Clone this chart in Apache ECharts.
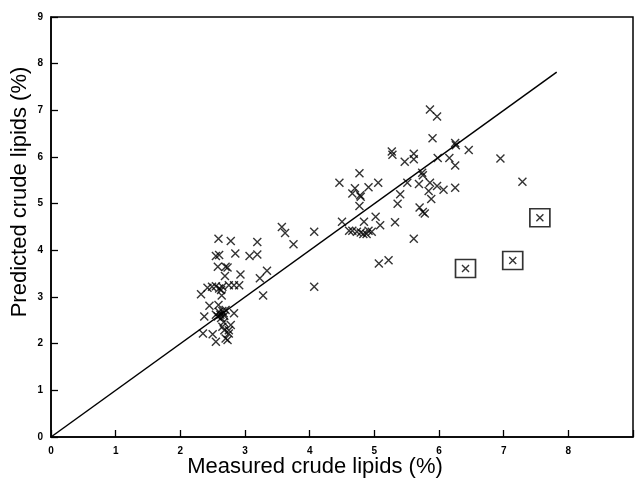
<!DOCTYPE html>
<html><head><meta charset="utf-8">
<script src="https://cdn.jsdelivr.net/npm/echarts@6/dist/echarts.min.js"></script>
<style>html,body{margin:0;padding:0;background:#fff}#c{width:636px;height:479px}</style>
</head><body><div id="c"></div>
<script>
const xTicks = [0,1,2,3,4,5,6,7,8];
const yTicks = [0,1,2,3,4,5,6,7,8,9];
const samples = [
[2.59,4.25],[2.78,4.20],[3.19,4.18],[3.57,4.50],[3.62,4.37],[2.55,3.88],[2.60,3.90],[2.85,3.93],[3.07,3.88],[3.19,3.91],
[2.58,3.65],[2.70,3.65],[2.73,3.63],[2.69,3.45],[2.93,3.48],[3.23,3.40],[3.34,3.56],[2.32,3.06],[2.42,3.20],[2.49,3.22],
[2.55,3.23],[2.60,3.18],[2.63,3.15],[2.65,3.22],[2.64,3.03],[2.75,3.25],[2.83,3.25],[2.91,3.25],[3.28,3.03],[2.45,2.81],
[2.59,2.83],[2.55,2.62],[2.58,2.58],[2.60,2.68],[2.62,2.62],[2.65,2.70],[2.67,2.65],[2.70,2.72],[2.63,2.55],[2.68,2.60],
[2.83,2.65],[2.37,2.58],[2.35,2.22],[2.50,2.20],[2.55,2.04],[2.65,2.36],[2.68,2.29],[2.78,2.40],[2.75,2.29],[2.70,2.11],
[2.73,2.08],[2.75,2.22],[2.67,2.46],
[3.75,4.13],[4.07,4.40],[4.07,3.22],
[4.77,5.65],[4.46,5.45],[4.70,5.33],[4.66,5.22],[4.78,5.18],[4.79,5.15],[4.91,5.35],[5.06,5.45],[4.77,4.95],[4.50,4.61],
[4.61,4.42],[4.66,4.42],[4.73,4.40],[4.79,4.38],[4.83,4.35],[4.88,4.35],[4.91,4.42],[4.96,4.40],[4.84,4.61],[5.02,4.72],
[5.09,4.54],[5.32,4.60],[5.07,3.72],[5.22,3.79],[5.61,4.25],
[5.86,7.02],[5.97,6.87],[5.90,6.40],[6.25,6.30],[6.26,6.25],[6.46,6.15],[5.27,6.12],[5.28,6.05],[5.61,6.07],[5.61,5.95],
[5.47,5.90],[5.98,5.98],[6.16,5.98],[6.25,5.82],[5.74,5.66],[5.75,5.61],[5.51,5.45],[5.69,5.42],[5.86,5.45],[5.84,5.27],
[5.97,5.38],[6.07,5.30],[6.25,5.34],[5.88,5.10],[5.40,5.20],[5.36,5.00],[5.70,4.92],[5.75,4.82],[5.78,4.79],[6.95,5.97],
[7.29,5.47]
];
const outliers = [[6.41,3.61],[7.14,3.78],[7.56,4.70]];
const fitLine = [[0,0],[7.82,7.82]];

const chart = echarts.init(document.getElementById('c'), null, {renderer:'canvas'});
const cross = 'path://M0 0L10 10M10 0L0 10';
const lblFont = {color:'#000', fontSize:10, fontWeight:'bold', fontFamily:'Liberation Sans'};
chart.setOption({
  animation:false,
  backgroundColor:'#fff',
  grid:{left:51, right:-5, top:17, bottom:42, show:true, borderColor:'#000', borderWidth:1.5},
  xAxis:{type:'value', min:0, max:9, interval:1,
    axisLine:{show:true, lineStyle:{color:'#000', width:1.5}},
    axisTick:{show:true, inside:true, length:7, lineStyle:{color:'#000', width:1.3}},
    axisLabel:Object.assign({margin:9, formatter:v => xTicks.includes(v) ? String(v) : ''}, lblFont),
    splitLine:{show:false}},
  yAxis:{type:'value', min:0, max:9, interval:1,
    axisLine:{show:true, lineStyle:{color:'#000', width:1.5}},
    axisTick:{show:true, inside:true, length:7, lineStyle:{color:'#000', width:1.3}},
    axisLabel:Object.assign({margin:8, formatter:v => yTicks.includes(v) ? String(v) : ''}, lblFont),
    splitLine:{show:false}},
  graphic:[
    {type:'text', x:315, y:467, style:{text:'Measured crude lipids (%)', align:'center', verticalAlign:'middle', font:'22px "Liberation Sans"', fill:'#000'}},
    {type:'text', x:20, y:192, rotation:Math.PI/2, style:{text:'Predicted crude lipids (%)', align:'center', verticalAlign:'middle', font:'22px "Liberation Sans"', fill:'#000'}}
  ],
  series:[
    {type:'line', data:fitLine, symbol:'none', lineStyle:{color:'#000', width:1.5}, silent:true},
    {type:'scatter', data:samples, symbol:cross, symbolSize:8,
      itemStyle:{color:'none', borderColor:'#000', borderWidth:1.4}},
    {type:'scatter', data:outliers, symbol:cross, symbolSize:7,
      itemStyle:{color:'none', borderColor:'#000', borderWidth:1.4}},
    {type:'scatter', data:outliers, symbol:'rect', symbolSize:[20,18],
      itemStyle:{color:'none', borderColor:'#000', borderWidth:1.6}}
  ]
});
</script></body></html>
